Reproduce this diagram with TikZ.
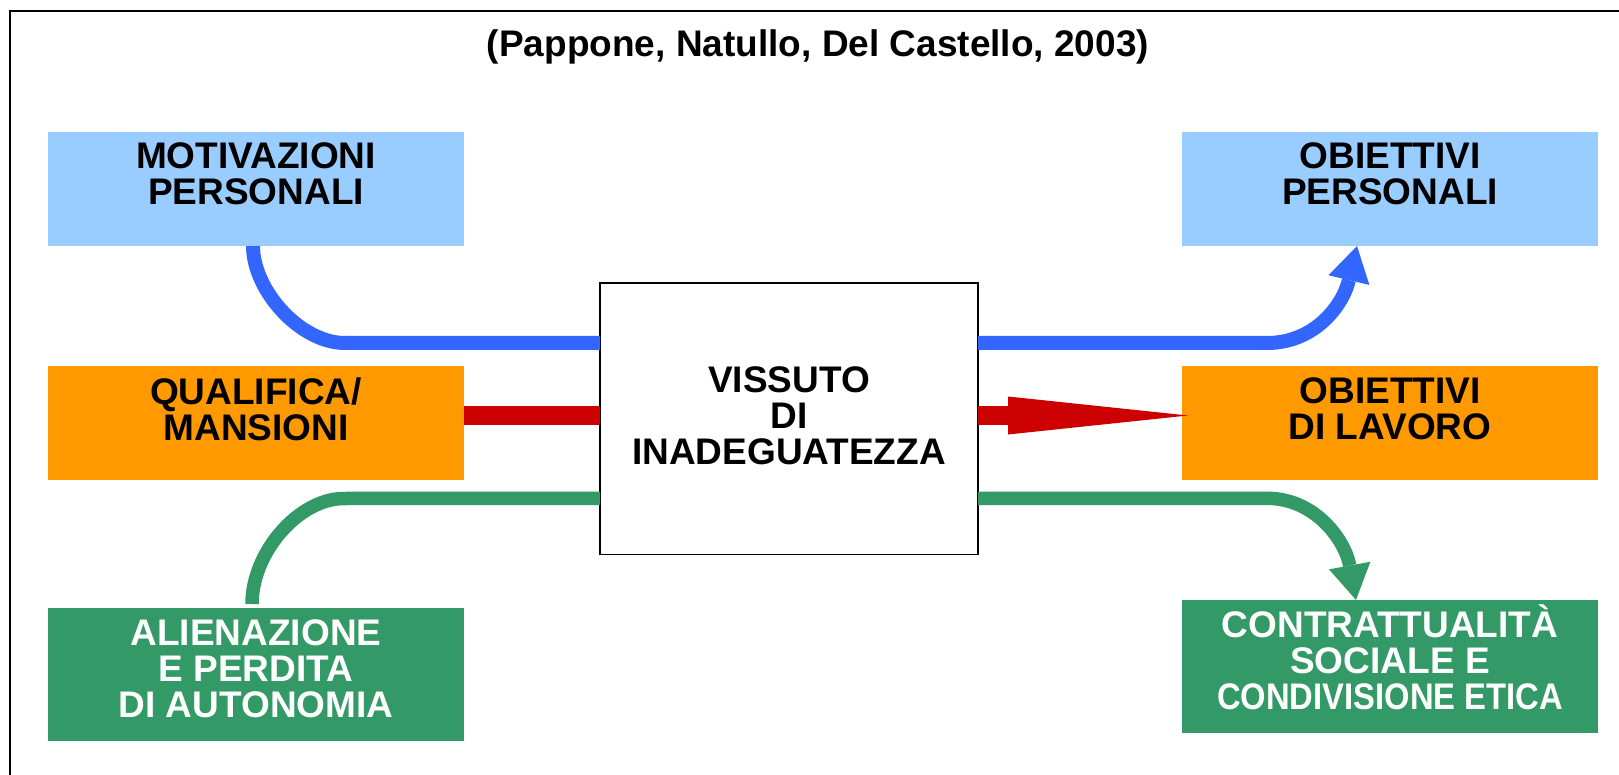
\documentclass[tikz,border=0pt]{standalone}
\usepackage{fontspec}
\setmainfont{Liberation Sans}
\usepackage{graphicx}
\usetikzlibrary{arrows.meta,calc}
\definecolor{lblue}{HTML}{99CCFF}
\definecolor{orng}{HTML}{FF9900}
\definecolor{grn}{HTML}{339966}
\definecolor{blu}{HTML}{3366FF}
\definecolor{rd}{HTML}{CC0000}
\begin{document}
\begin{tikzpicture}[x=1pt,y=-1pt,
  box/.style={draw=none, minimum width=416pt, inner sep=0pt, outer sep=0pt},
  lbl/.style={anchor=north, inner sep=0pt, outer sep=0pt, align=center,
              font=\bfseries\fontsize{37}{35.8}\selectfont},
  bl/.style={draw=blu, line width=14pt},
  gl/.style={draw=grn, line width=13.5pt},
  rl/.style={draw=rd, line width=19pt},
  bighead/.style={-{Triangle[length=35pt,width=42pt,line width=0pt]}},
  redhead/.style={-{Triangle[length=180pt,width=38pt,line width=0pt]}}]
\useasboundingbox (0,0) rectangle (1619,775);
\fill[white] (0,0) rectangle (1619,775);
\draw[line width=2pt] (10,800) -- (10,11) -- (1650,11);

% boxes
\node[box, fill=lblue, minimum height=114pt] (mot) at (256,189) {};
\node[box, fill=lblue, minimum height=114pt] (obp) at (1390,189) {};
\node[box, fill=orng, minimum height=114pt] (qual) at (256,423) {};
\node[box, fill=orng, minimum height=114pt] (obl) at (1390,423) {};
\node[box, fill=grn, minimum height=132.7pt] (alien) at (256,674.35) {};
\node[box, fill=grn, minimum height=132.7pt] (contr) at (1390,666.35) {};
\node[draw=black, fill=white, line width=1.6pt, inner sep=0pt, outer sep=0pt,
      minimum width=378pt, minimum height=271.3pt] (viss) at (789,418.65) {};

% connectors
\draw[bl] ([xshift=-3pt]mot.south)
   .. controls +(0,44) and +(-45,0) .. ++(92,97)
   -- ($(viss.north west)+(0,60)$);
\draw[bl, bighead] ($(viss.north east)+(0,60)$) -- (1267,343)
   .. controls (1315,343) and (1343,305) .. ([xshift=-33pt]obp.south);

\draw[rl] ($(qual.north east)+(0,49.5)$) -- ($(viss.north west)+(0,132.5)$);
\draw[rl, redhead] ($(viss.north east)+(0,132.5)$) -- ($(obl.west)+(6,-7.5)$);

\draw[gl] ($(alien.north)+(-4,-4)$)
   .. controls +(0,-52) and +(-45,0) .. ++(92,-105.5)
   -- ($(viss.south west)+(0,-56)$);
\draw[gl, bighead] ($(viss.south east)+(0,-56)$) -- (1267,498.3)
   .. controls (1315,498.3) and (1345,540) .. ([xshift=-34pt]contr.north);

% texts
\node[lbl] (title) at (818,30) {(Pappone, Natullo, Del Castello, 2003)};
\node[lbl] (motT) at (256,143) {MOTIVAZIONI\\PERSONALI};
\node[lbl] (obpT) at (1390,143) {OBIETTIVI\\PERSONALI};
\node[lbl] (qualT) at (256,378) {QUALIFICA/\\MANSIONI};
\node[lbl] (oblT) at (1390,378) {OBIETTIVI\\DI LAVORO};
\node[lbl, text=white] (alienT) at (256,620) {ALIENAZIONE\\E PERDITA\\DI AUTONOMIA};
\node[lbl, text=white] (contrT) at (1390,611.7) {CONTRATTUALIT\smash{À}\\SOCIALE E\\\scalebox{0.885}[1]{CONDIVISIONE ETICA}};
\node[lbl] (vissT) at (789,367) {VISSUTO\\DI\\INADEGUATEZZA};
\end{tikzpicture}
\end{document}
